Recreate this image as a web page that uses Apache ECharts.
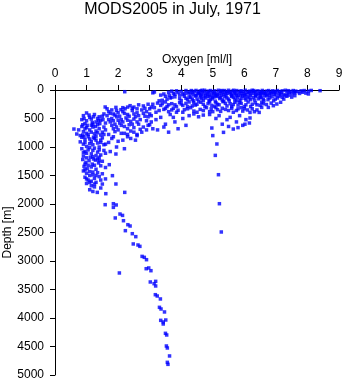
<!DOCTYPE html>
<html>
<head>
<meta charset="utf-8">
<script src="https://cdn.jsdelivr.net/npm/echarts@6/dist/echarts.min.js"></script>
<style>html,body{margin:0;padding:0;background:#fff}#c{width:345px;height:384px}</style>
</head>
<body>
<div id="c"></div>
<script>
var titleText = "MODS2005 in July, 1971";
var xName = "Oxygen [ml/l]";
var yName = "Depth [m]";
var xTicks = [0,1,2,3,4,5,6,7,8,9];
var yTicks = [0,500,1000,1500,2000,2500,3000,3500,4000,4500,5000];

// [oxygen ml/l, depth m]
var surfaceLayer = [
[4.32,10],[4.41,25],[4.47,8],[4.55,40],[4.6,15],[4.68,30],[4.74,5],[4.8,50],[4.85,20],[4.93,10],[5.0,35],[5.06,15],[5.12,55],[5.18,5],[5.25,25],[5.3,45],[5.37,10],[5.44,30],[5.5,5],[5.56,50],[5.62,20],[5.7,35],[5.76,10],[5.83,45],[5.9,15],[5.97,30],[6.03,5],[6.1,50],[6.16,20],[6.22,35],[6.3,10],[6.36,45],[6.43,15],[6.5,30],[6.57,8],[6.63,40],[6.7,20],[6.77,10],[6.84,35],[6.9,15],[6.97,25],[7.05,10],[7.12,30],[7.2,15],[7.3,5],[7.39,12],[7.48,25],[7.55,10],[7.63,20],[7.7,30],[7.8,15],[7.9,10],[8.03,20],[8.12,8],[8.4,12],
[4.3,70],[4.4,85],[4.52,65],[4.63,80],[4.72,60],[4.84,75],[4.95,90],[5.05,70],[5.15,85],[5.22,65],[5.35,75],[5.46,60],[5.58,80],[5.68,70],[5.8,90],[5.92,65],[6.05,80],[6.18,70],[6.28,60],[6.4,85],[6.52,70],[6.6,60],[6.72,80],[6.85,65],[6.95,75],[7.1,60],[7.25,80],[7.35,55],[7.5,70],[7.6,50],[7.75,60],[8.03,70],[7.95,55],
[3.1,50],[3.15,35],[3.35,90],[3.45,70],[3.6,40],[3.7,20],[3.75,60],[3.85,15],[3.9,45],[4.0,25],[4.05,80],[4.15,10],[4.2,55],[2.21,30],[3.5,110],[3.62,95],
[4.36,45],[4.58,55],[4.66,5],[4.9,40],[5.03,55],[5.28,10],[5.4,50],[5.53,35],[5.66,5],[5.73,55],[5.87,25],[6.0,60],[6.13,35],[6.25,5],[6.33,28],[6.46,60],[6.55,45],[6.68,55],[6.8,50],[6.93,45],[7.0,40],[7.17,45],[7.42,40],[7.58,35],[7.85,40],[4.25,35],[4.1,60],[3.95,90],[3.8,75],
[4.48,100],[4.62,95],[4.77,100],[4.9,105],[5.1,100],[5.27,95],[5.42,100],[5.6,95],[5.75,100],[5.88,95],[6.0,100],[6.2,100],[6.35,95],[6.5,100],[6.65,95],[6.8,95],[7.0,90],[7.15,85],[7.4,90]
];
var upperCloud = [
[3.8,120],[3.95,150],[4.1,110],[4.2,170],[4.3,130],[4.38,190],[4.45,105],[4.5,160],[4.6,125],[4.7,180],[4.78,140],[4.85,110],[4.92,165],[5.0,130],[5.08,195],[5.15,115],[5.22,150],[5.3,175],[5.38,120],[5.45,140],[5.52,190],[5.6,110],[5.7,160],[5.78,130],[5.86,180],[5.95,105],[6.02,145],[6.1,120],[6.2,170],[6.28,135],[6.36,110],[6.45,155],[6.55,125],[6.62,185],[6.7,105],[6.8,140],[6.88,120],[6.98,160],[7.1,110],[7.2,130],[7.35,110],[7.5,125],[7.6,100],[3.4,180],[3.55,160],[3.65,140],[3.3,190],[7.29,100],
[3.7,130],[4.0,185],[4.15,145],[4.25,120],[4.35,160],[4.55,195],[4.65,150],[4.72,120],[4.88,185],[4.98,155],[5.05,120],[5.25,130],[5.35,195],[5.5,160],[5.65,130],[5.75,190],[5.9,150],[6.05,175],[6.15,140],[6.33,175],[6.5,135],[6.6,160],[6.75,170],[6.93,190],[7.05,140],[7.25,160],
[3.1,250],[3.25,230],[3.35,270],[3.5,210],[3.6,260],[3.7,240],[3.85,290],[3.95,220],[4.05,270],[4.15,235],[4.25,210],[4.35,280],[4.5,250],[4.62,215],[4.75,290],[4.85,240],[4.97,270],[5.1,225],[5.2,260],[5.32,205],[5.45,280],[5.55,240],[5.7,215],[5.8,265],[5.9,235],[6.0,290],[6.12,210],[6.25,250],[6.35,225],[6.5,270],[6.6,240],[6.76,305],[6.92,275],[7.03,246],[7.15,215],
[3.4,240],[3.55,290],[3.8,260],[4.0,245],[4.2,290],[4.4,225],[4.45,265],[4.7,250],[4.9,210],[5.05,290],[5.15,250],[5.4,235],[5.6,290],[5.65,255],[5.85,215],[6.05,260],[6.2,290],[6.4,260],[6.55,215],[6.7,255],[6.85,230],
[3.0,330],[3.15,310],[3.3,360],[3.45,340],[3.6,380],[3.75,320],[3.9,355],[4.05,390],[4.2,330],[4.4,370],[4.6,340],[4.8,310],[5.0,380],[5.15,345],[5.3,320],[5.5,360],[5.65,390],[5.8,330],[5.95,370],[6.18,393],[6.32,381],[6.47,393],[6.55,305],[6.1,350],[4.95,330],
[3.2,390],[3.5,320],[3.7,350],[3.85,390],[4.1,345],[4.3,310],[4.5,390],[4.7,360],[4.9,380],[5.1,310],[5.25,375],[5.4,340],[5.6,320],[5.75,360],[5.9,310],[6.0,330],[6.25,330],[6.4,350],
[3.05,450],[3.2,520],[3.35,480],[3.5,600],[3.65,430],[3.8,560],[3.9,680],[4.05,500],[4.15,620],[4.25,450],[3.25,700],[3.45,650],[3.6,740],[3.75,480],[4.4,420],[4.55,470],[4.7,440],[4.9,430],[4.97,667],[5.1,500],[5.2,450],[5.34,743],[5.3,600],[5.45,520],[5.55,480],[5.65,685],[5.75,560],[5.85,450],[5.95,620],[6.05,520],[6.18,491],[6.16,579],[6.02,600],[5.5,640],[5.8,660]
];
var slopeBand = [
[1.59,298],[1.93,305],[2.09,345],[2.22,330],[2.38,275],[2.5,300],[2.65,260],[2.8,280],[2.95,250],[1.7,380],[1.85,420],[2.0,400],[2.15,380],[2.3,430],[2.45,360],[2.6,400],[2.75,350],[2.9,380],[3.0,420],[1.65,450],[1.8,500],[1.95,470],[2.1,520],[2.25,490],[2.4,550],[2.55,470],[2.7,520],[2.85,460],[3.05,560],[1.75,560],[1.9,600],[2.05,580],[2.2,640],[2.35,610],[2.5,660],[2.65,600],[2.8,650],[2.95,620],[3.1,680],[2.0,700],[2.2,760],[2.4,720],[2.6,780],[2.75,740],[1.85,680],
[1.8,850],[2.0,900],[2.3,820],[2.55,880],[1.6,950],[1.95,1000],[2.2,1030],[1.75,1080],[1.93,1123],[2.6,800],
[1.65,330],[1.8,350],[1.95,360],[2.15,310],[2.3,300],[2.45,320],[2.6,330],[2.85,320],[3.05,300],[1.75,410],[1.9,440],[2.05,460],[2.2,410],[2.35,460],[2.5,420],[2.65,450],[2.8,410],[2.95,470],[1.7,520],[1.85,540],[2.0,530],[2.15,560],[2.3,530],[2.5,510],[2.6,560],[2.9,540],[1.8,620],[1.95,650],[2.1,620],[2.3,680],[2.45,600],[2.7,690],[2.9,700],[3.0,610],[1.9,730],[2.1,760],[2.3,780],[2.5,740],[1.7,780],[1.85,820],[2.15,880],[2.4,850],[1.7,920]
];
var leftCloud = [
[1.0,403],[0.9,450],[1.1,480],[1.25,430],[1.4,470],[1.55,420],[0.85,520],[1.0,540],[1.15,510],[1.3,560],[1.45,530],[1.6,580],[0.95,590],[1.2,600],[1.35,500],[1.5,460],
[0.6,685],[0.69,772],[0.85,640],[1.0,660],[1.1,700],[1.2,650],[1.3,720],[1.4,680],[1.5,740],[1.6,700],[0.9,730],[1.05,780],[1.25,770],[1.45,790],[0.8,800],[1.15,620],[1.35,610],[1.55,650],
[0.85,830],[0.95,870],[1.05,820],[1.15,900],[1.25,850],[1.35,930],[1.45,880],[1.55,960],[0.9,950],[1.0,990],[1.2,960],[1.4,1000],[1.1,860],[0.8,910],[1.3,810],[1.5,840],
[0.85,1030],[0.95,1080],[1.05,1050],[1.15,1120],[1.25,1020],[1.35,1090],[1.45,1140],[1.55,1060],[0.9,1160],[1.0,1190],[1.2,1170],[1.4,1180],[1.1,1010],[1.3,1150],[1.6,1110],
[0.88,1220],[0.98,1270],[1.08,1240],[1.18,1300],[1.28,1230],[1.38,1280],[1.5,1250],[0.92,1340],[1.02,1380],[1.15,1350],[1.3,1390],[1.45,1330],[1.72,1310],[1.6,1360],[1.22,1210],
[0.9,1420],[1.0,1460],[1.1,1430],[1.2,1490],[1.35,1450],[1.5,1470],[0.95,1530],[1.05,1580],[1.25,1550],[1.4,1520],[1.82,1503],[1.15,1600],[1.6,1560],
[1.0,1640],[1.15,1680],[1.3,1620],[1.45,1719],[1.34,1796],[1.61,1819],[1.93,1649],[1.1,1750],[1.25,1700],[2.21,1796],
[0.92,500],[1.08,440],[1.22,470],[1.38,540],[1.52,520],[0.88,610],[1.02,620],[1.18,570],[1.28,640],[1.42,590],[0.75,700],[0.95,680],[1.15,740],[1.35,750],[1.55,780],[0.88,790],[1.0,760],[1.22,830],[0.92,820],[1.1,940],[1.3,880],[0.95,920],[1.45,920],[1.0,1110],[1.2,1060],[1.4,1050],[0.9,1100],[1.12,1180],[1.35,1210],[0.95,1300],[1.25,1320],[1.05,1320],[1.4,1240],[0.95,1400],[1.1,1500],[1.3,1500],[1.0,1560],[1.2,1440],[1.45,1580],[1.1,1620],[1.25,1650],[1.2,1780],[1.5,1650]
];
var midColumn = [
[5.0,800],[5.13,947],[5.08,1147],[5.18,1486],[5.21,1995],[5.27,2491]
];
var deepBranch = [
[1.59,2012],[1.85,1995],[1.94,2017],[1.85,2059],[2.06,2176],[2.14,2200],[1.91,2245],[2.17,2293],[2.31,2363],[2.38,2386],[2.23,2468],[2.45,2521],[2.56,2573],[2.48,2701],[2.63,2719],[2.69,2743],[2.76,2919],[2.83,2936],[2.9,2977],[2.89,3135],[2.97,3122],[3.04,3170],[2.04,3210],
[3.02,3368],[3.14,3398],[3.19,3357],[3.19,3438],[3.18,3591],[3.24,3614],[3.34,3666],[3.31,3813],[3.36,3842],[3.47,3894],[3.35,4041],[3.43,4070],[3.51,4035],[3.43,4105],[3.5,4269],[3.54,4298],[3.53,4491],[3.56,4526],[3.63,4666],[3.56,4778],[3.58,4813]
];

var allPoints = [].concat(surfaceLayer, upperCloud, slopeBand, leftCloud, midColumn, deepBranch);

var font = "'Liberation Sans', Arial, sans-serif";
var chart = echarts.init(document.getElementById('c'), null, {renderer: 'canvas'});
chart.setOption({
  animation: false,
  backgroundColor: '#fff',
  title: {
    text: titleText, left: 'center', top: -3,
    textStyle: {fontFamily: font, fontSize: 16, fontWeight: 'normal', color: '#000'}
  },
  grid: {left: 55, right: 6, top: 90, bottom: 9, containLabel: false, outerBoundsMode: 'none'},
  xAxis: {
    type: 'value', position: 'top', min: xTicks[0], max: xTicks[xTicks.length-1], interval: 1,
    name: xName, nameLocation: 'middle', nameGap: 24, nameMoveOverlap: false,
    nameTextStyle: {fontFamily: font, fontSize: 12, color: '#000'},
    axisLine: {show: true, lineStyle: {color: '#000', width: 1}},
    axisTick: {show: true, length: 5, lineStyle: {color: '#000'}},
    axisLabel: {fontFamily: font, fontSize: 12, color: '#000', margin: 10},
    splitLine: {show: false}
  },
  yAxis: {
    type: 'value', inverse: true, min: yTicks[0], max: yTicks[yTicks.length-1], interval: 500,
    name: yName, nameLocation: 'middle', nameGap: 41, nameMoveOverlap: false,
    nameTextStyle: {fontFamily: font, fontSize: 12, color: '#000'},
    axisLine: {show: true, onZero: false, lineStyle: {color: '#000', width: 1}},
    axisTick: {show: true, length: 5, lineStyle: {color: '#000'}},
    axisLabel: {fontFamily: font, fontSize: 12, color: '#000', margin: 11,
      formatter: function (v) { return String(v); }},
    splitLine: {show: false}
  },
  series: [{
    type: 'scatter', data: allPoints, symbol: 'rect', symbolSize: 3.5,
    itemStyle: {color: '#0000ff'}, silent: true
  }]
});
</script>
</body>
</html>
